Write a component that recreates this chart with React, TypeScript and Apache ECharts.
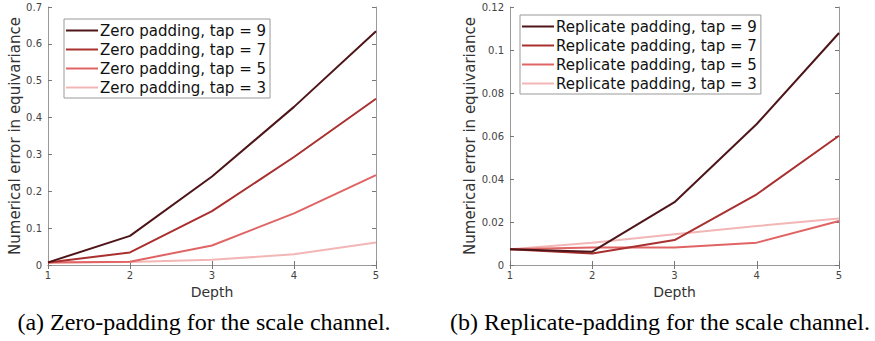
import React, { useEffect, useRef } from "react";
import * as echarts from "echarts";

const depths = [1, 2, 3, 4, 5];
const zeroNames = ["Zero padding, tap = 9", "Zero padding, tap = 7", "Zero padding, tap = 5", "Zero padding, tap = 3"];
const repNames = ["Replicate padding, tap = 9", "Replicate padding, tap = 7", "Replicate padding, tap = 5", "Replicate padding, tap = 3"];
const zeroTap9 = [0.007, 0.079, 0.24, 0.429, 0.634];
const zeroTap7 = [0.007, 0.034, 0.146, 0.293, 0.451];
const zeroTap5 = [0.007, 0.009, 0.053, 0.14, 0.244];
const zeroTap3 = [0.007, 0.008, 0.014, 0.029, 0.061];
const repTap9 = [0.0073, 0.0062, 0.0292, 0.0656, 0.1079];
const repTap7 = [0.0073, 0.0054, 0.0116, 0.0329, 0.0601];
const repTap5 = [0.0073, 0.0081, 0.0081, 0.0104, 0.0205];
const repTap3 = [0.0073, 0.0104, 0.0143, 0.0181, 0.0216];
const colors = ["#4e1518", "#a8302f", "#e06464", "#f2b6b6"];
const captions = ["(a) Zero-padding for the scale channel.", "(b) Replicate-padding for the scale channel."];

const SANS = "DejaVu Sans";

export default function App() {
  const ref = useRef<HTMLDivElement>(null);
  useEffect(() => {
    const chart = echarts.init(ref.current!, null, { renderer: "svg" });
    const grids = [
      { left: 48, right: 499, top: 7, bottom: 76, show: false },
      { left: 510, right: 36, top: 7, bottom: 76, show: false },
    ];
    const xAxes: any[] = [];
    const yAxes: any[] = [];
    const yCfg = [
      { max: 0.7, interval: 0.1, gap: 25 },
      { max: 0.12, interval: 0.02, gap: 31 },
    ];
    for (let g = 0; g < 2; g++) {
      xAxes.push({
        type: "value", gridIndex: g, min: 1, max: 5, interval: 1, position: "bottom",
        name: "Depth", nameLocation: "middle", nameGap: 20,
        nameTextStyle: { fontFamily: SANS, fontSize: 14, color: "#333" },
        axisLine: { show: true, lineStyle: { color: "#999", width: 1 } },
        axisTick: { show: true, inside: true, length: 4, lineStyle: { color: "#777" } },
        axisLabel: { fontFamily: SANS, fontSize: 10, color: "#444", margin: 5 },
        splitLine: { show: false },
      });
      xAxes.push({
        type: "value", gridIndex: g, min: 1, max: 5, interval: 1, position: "top",
        axisLine: { show: true, lineStyle: { color: "#999", width: 1 } },
        axisTick: { show: true, inside: true, length: 4, lineStyle: { color: "#777" } },
        axisLabel: { show: false }, splitLine: { show: false },
      });
      yAxes.push({
        type: "value", gridIndex: g, min: 0, max: yCfg[g].max, interval: yCfg[g].interval, position: "left",
        name: "Numerical error in equivariance", nameLocation: "middle", nameGap: yCfg[g].gap,
        nameTextStyle: { fontFamily: SANS, fontSize: 15, color: "#333" },
        axisLine: { show: true, lineStyle: { color: "#999", width: 1 } },
        axisTick: { show: true, inside: true, length: 4, lineStyle: { color: "#777" } },
        axisLabel: { fontFamily: SANS, fontSize: 10, color: "#444", margin: 6 },
        splitLine: { show: false },
      });
      yAxes.push({
        type: "value", gridIndex: g, min: 0, max: yCfg[g].max, interval: yCfg[g].interval, position: "right",
        axisLine: { show: true, lineStyle: { color: "#999", width: 1 } },
        axisTick: { show: true, inside: true, length: 4, lineStyle: { color: "#777" } },
        axisLabel: { show: false }, splitLine: { show: false },
      });
    }
    const zeroData = [zeroTap9, zeroTap7, zeroTap5, zeroTap3];
    const repData = [repTap9, repTap7, repTap5, repTap3];
    const series: any[] = [];
    zeroData.forEach((d, i) => {
      series.push({
        type: "line", name: zeroNames[i], xAxisIndex: 0, yAxisIndex: 0,
        data: depths.map((x, k) => [x, d[k]]), showSymbol: false, symbol: "none",
        lineStyle: { color: colors[i], width: 2 }, itemStyle: { color: colors[i] }, z: 10 - i,
      });
    });
    repData.forEach((d, i) => {
      series.push({
        type: "line", name: repNames[i], xAxisIndex: 2, yAxisIndex: 2,
        data: depths.map((x, k) => [x, d[k]]), showSymbol: false, symbol: "none",
        lineStyle: { color: colors[i], width: 2 }, itemStyle: { color: colors[i] }, z: 10 - i,
      });
    });
    const legendBase = {
      orient: "vertical", icon: "rect", itemWidth: 32, itemHeight: 2, itemGap: 4,
      backgroundColor: "#fff", borderColor: "#999", borderWidth: 1, padding: [4, 4, 3, 2],
      textStyle: { fontFamily: SANS, fontSize: 15, color: "#111", padding: [0, 0, 0, -3], lineHeight: 14 },
      selectedMode: false,
    };
    chart.setOption({
      animation: false,
      backgroundColor: "#fff",
      grid: grids,
      xAxis: xAxes,
      yAxis: yAxes,
      legend: [
        { ...legendBase, left: 64, top: 19, data: zeroNames },
        { ...legendBase, left: 520, top: 15, data: repNames },
      ],
      title: [
        { text: captions[0], left: 204, top: 310, textAlign: "center", padding: 0,
          textStyle: { fontFamily: "Liberation Serif", fontSize: 24, fontWeight: "normal", color: "#000" } },
        { text: captions[1], left: 660, top: 310, textAlign: "center", padding: 0,
          textStyle: { fontFamily: "Liberation Serif", fontSize: 24, fontWeight: "normal", color: "#000" } },
      ],
      series,
    });
    return () => chart.dispose();
  }, []);
  return <div ref={ref} style={{ width: 875, height: 341, position: "absolute", left: 0, top: 0 }} />;
}
